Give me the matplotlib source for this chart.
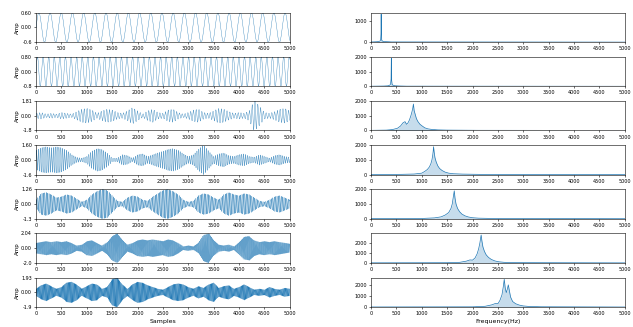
import matplotlib
matplotlib.use('Agg')
import matplotlib.pyplot as plt
import numpy as np

# sampling: 5000 samples, spectrum shown up to 5000 Hz
fs = 44100
n_samples = 5000

# carrier frequency of each row (Hz)
carrier_hz = [200, 400, 800, 1200, 1600, 2150, 2600]
carrier_amp = [0.6, 0.8, 2.0, 1.9, 1.8, 2.4, 2.3]

# envelope knots every 100 samples (0..5000), read from the left column
env_knots_x = np.arange(0, 5001, 100)
env_rows = [
    [1.0] * 51,
    [1.0] * 51,
    [0.15, 0.2, 0.1, 0.15, 0.1, 0.2, 0.15, 0.1, 0.25, 0.4, 0.45, 0.35, 0.15, 0.3, 0.4, 0.35, 0.2,
     0.15, 0.3, 0.5, 0.3, 0.1, 0.3, 0.4, 0.2, 0.15, 0.35, 0.4, 0.2, 0.1, 0.2, 0.35, 0.4, 0.2, 0.15,
     0.3, 0.45, 0.4, 0.25, 0.15, 0.2, 0.15, 0.3, 0.95, 0.6, 0.2, 0.15, 0.25, 0.4, 0.45, 0.3],
    [0.55, 0.7, 0.75, 0.7, 0.75, 0.7, 0.55, 0.3, 0.15, 0.1, 0.2, 0.5, 0.65, 0.6, 0.4, 0.1, 0.1,
     0.3, 0.25, 0.1, 0.3, 0.35, 0.2, 0.3, 0.4, 0.5, 0.6, 0.65, 0.55, 0.35, 0.2, 0.3, 0.6, 0.85, 0.5,
     0.2, 0.35, 0.4, 0.25, 0.2, 0.3, 0.35, 0.2, 0.15, 0.3, 0.2, 0.1, 0.25, 0.3, 0.2, 0.15],
    [0.2, 0.5, 0.55, 0.45, 0.3, 0.35, 0.45, 0.4, 0.25, 0.1, 0.2, 0.45, 0.6, 0.7, 0.65, 0.4, 0.15,
     0.1, 0.3, 0.4, 0.35, 0.2, 0.15, 0.35, 0.5, 0.65, 0.7, 0.6, 0.45, 0.2, 0.1, 0.15, 0.4, 0.5, 0.45,
     0.3, 0.2, 0.45, 0.55, 0.45, 0.4, 0.5, 0.45, 0.3, 0.15, 0.1, 0.2, 0.35, 0.4, 0.3, 0.2],
    [0.3, 0.35, 0.4, 0.35, 0.4, 0.35, 0.4, 0.3, 0.15, 0.2, 0.4, 0.45, 0.3, 0.15, 0.35, 0.7, 0.85,
     0.5, 0.2, 0.3, 0.45, 0.5, 0.45, 0.5, 0.45, 0.4, 0.5, 0.45, 0.3, 0.1, 0.15, 0.1, 0.3, 0.75, 0.85,
     0.45, 0.2, 0.15, 0.2, 0.1, 0.35, 0.65, 0.7, 0.45, 0.35, 0.4, 0.35, 0.4, 0.35, 0.3, 0.25],
    [0.2, 0.4, 0.5, 0.35, 0.2, 0.3, 0.55, 0.6, 0.45, 0.2, 0.35, 0.5, 0.45, 0.2, 0.3, 0.75, 0.85,
     0.45, 0.2, 0.45, 0.6, 0.55, 0.4, 0.3, 0.2, 0.15, 0.3, 0.45, 0.5, 0.45, 0.3, 0.2, 0.35, 0.25, 0.45,
     0.55, 0.25, 0.35, 0.4, 0.2, 0.3, 0.45, 0.3, 0.15, 0.2, 0.15, 0.3, 0.2, 0.15, 0.25, 0.2],
]

# spectrum magnitude read from the right column: (frequency Hz, magnitude)
spec_freq = [
    [0, 100, 150, 180, 190, 196, 200, 204, 210, 220, 250, 300, 350, 400, 5000],
    [0, 250, 330, 370, 385, 395, 400, 405, 415, 430, 470, 550, 700, 5000],
    [0, 300, 420, 520, 580, 630, 670, 700, 725, 755, 785, 805, 822, 835, 850, 870, 895, 925,
     965, 1010, 1060, 1120, 1200, 1320, 1500, 2100, 5000],
    [0, 600, 850, 1000, 1060, 1110, 1150, 1180, 1200, 1215, 1225, 1232, 1245, 1260, 1285, 1315,
     1350, 1400, 1460, 1530, 1620, 1800, 2200, 5000],
    [0, 1000, 1250, 1380, 1460, 1530, 1575, 1600, 1622, 1640, 1655, 1675, 1705, 1745, 1790,
     1850, 1920, 2000, 2120, 2500, 5000],
    [0, 1500, 1750, 1880, 1950, 2000, 2050, 2090, 2120, 2145, 2160, 2170, 2185, 2205, 2235,
     2270, 2315, 2370, 2440, 2520, 2620, 2850, 5000],
    [0, 2000, 2250, 2380, 2450, 2500, 2540, 2580, 2605, 2625, 2645, 2665, 2685, 2705, 2725,
     2750, 2790, 2850, 2920, 3000, 3100, 3350, 5000],
]
spec_mag = [
    [10, 20, 30, 60, 120, 400, 1350, 380, 110, 60, 30, 25, 20, 12, 3],
    [8, 20, 35, 80, 150, 500, 1900, 450, 140, 80, 40, 25, 12, 3],
    [10, 25, 60, 150, 300, 520, 600, 420, 500, 700, 1000, 1250, 1500, 1800, 1350, 1100, 800,
     600, 420, 300, 180, 110, 70, 40, 25, 12, 4],
    [8, 20, 40, 100, 220, 350, 520, 750, 1000, 1300, 1600, 1900, 1500, 1150, 850, 600, 420,
     280, 170, 100, 60, 35, 15, 4],
    [8, 20, 60, 130, 250, 420, 700, 1000, 1500, 1900, 1400, 1000, 700, 480, 320, 200, 120,
     70, 40, 15, 4],
    [8, 20, 60, 180, 300, 280, 500, 900, 1400, 2000, 2500, 2800, 2200, 1600, 1150, 800, 550,
     350, 200, 110, 60, 25, 4],
    [8, 20, 70, 200, 320, 300, 600, 1100, 1800, 2500, 1700, 1300, 1600, 2000, 1500, 900, 500,
     300, 180, 100, 60, 25, 4],
]
spec_top = [1420, 2000, 2000, 2000, 2000, 2950, 2650]

x_ticks = np.arange(0, 5001, 500)
line_color = '#1f77b4'


def configure_axis(ax):
    ax.set_xlim(0, 5000)
    ax.set_xticks(x_ticks)
    ax.tick_params(labelsize=3.5, length=1.5, width=0.4, pad=1.5)
    for sp in ax.spines.values():
        sp.set_linewidth(0.4)


fig, axes = plt.subplots(7, 2, figsize=(6.33, 3.27), dpi=100)
fig.subplots_adjust(left=0.057, right=0.987, top=0.961, bottom=0.061, hspace=0.5, wspace=0.32)

idx = np.arange(n_samples)
t = idx / fs

for row in range(7):
    env = np.interp(idx, env_knots_x, env_rows[row])
    sig = carrier_amp[row] * env * np.sin(2 * np.pi * carrier_hz[row] * t)

    ax_t = axes[row, 0]
    ax_t.plot(idx, sig, color=line_color, lw=0.25)
    configure_axis(ax_t)
    lim = np.max(np.abs(sig))
    ax_t.set_ylim(-lim, lim)
    ax_t.set_yticks([-lim, 0, lim])
    ax_t.set_yticklabels(['%.1f' % -lim, '0.00', '%.2f' % lim])
    ax_t.set_ylabel('Amp', fontsize=4, labelpad=1)

    ax_f = axes[row, 1]
    ax_f.fill_between(spec_freq[row], spec_mag[row], color=line_color, alpha=0.25, lw=0)
    ax_f.plot(spec_freq[row], spec_mag[row], color=line_color, lw=0.5)
    configure_axis(ax_f)
    ax_f.set_ylim(0, spec_top[row])
    ax_f.yaxis.set_major_locator(plt.MultipleLocator(1000))

axes[6, 0].set_xlabel('Samples', fontsize=4.5, labelpad=2)
axes[6, 1].set_xlabel('Frequency(Hz)', fontsize=4.5, labelpad=2)

fig.savefig('out.png', dpi=100)
